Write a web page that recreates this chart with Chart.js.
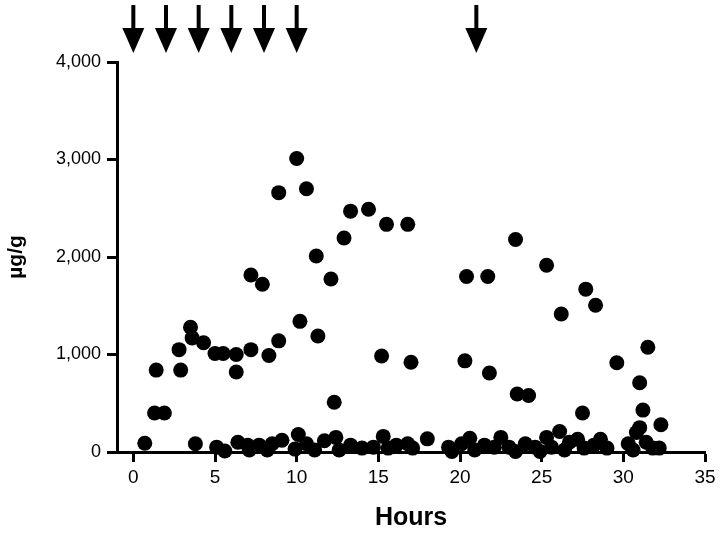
<!DOCTYPE html>
<html>
<head>
<meta charset="utf-8">
<script src="https://cdn.jsdelivr.net/npm/chart.js@4/dist/chart.umd.min.js"></script>
<style>
html,body{margin:0;padding:0;background:#fff;}
canvas{display:block;}
</style>
</head>
<body>
<canvas id="c" width="720" height="533"></canvas>
<script>
// Data
const hours = [
  0.7, 1.3, 1.9, 1.4, 2.8, 2.9, 3.5, 3.6, 4.3, 5.0, 5.5, 6.3, 6.3, 7.2, 8.3, 8.9,
  10.2, 11.3, 12.3, 15.2, 17.0, 10.0, 8.9, 10.6, 13.3, 14.4, 15.5, 16.8, 12.9, 11.2,
  12.1, 7.2, 7.9, 23.4, 20.4, 21.7, 25.3, 26.2, 27.7, 28.3, 29.6, 31.5, 31.0, 27.5,
  31.2, 32.3, 31.0, 30.8, 20.3, 21.8, 23.5, 24.2, 18.0,
  3.8, 5.1, 5.6, 6.4, 7.0, 7.1, 7.7, 8.2, 8.5, 9.1, 9.9, 10.1, 10.6, 11.1, 11.7,
  12.4, 12.6, 13.3, 14.0, 14.7, 15.3, 15.6, 16.1, 16.8, 17.1, 19.3, 19.5, 20.1,
  20.6, 20.9, 21.5, 22.1, 22.5, 23.0, 23.4, 24.0, 24.6, 24.9, 25.3, 25.6, 26.1,
  26.4, 26.7, 27.2, 27.6, 28.2, 28.6, 29.0, 30.3, 30.6, 31.4, 31.8, 32.2
];
const ugPerG = [
  90, 400, 400, 840, 1050, 840, 1280, 1170, 1120, 1010, 1010, 1000, 820, 1050, 990, 1140,
  1340, 1190, 510, 985, 920, 3010, 2660, 2700, 2470, 2490, 2335, 2335, 2195, 2010,
  1775, 1815, 1720, 2180, 1800, 1800, 1915, 1415, 1670, 1505, 915, 1075, 710, 400,
  430, 280, 250, 200, 935, 810, 595, 580, 135,
  85, 50, 10, 100, 70, 20, 70, 20, 85, 120, 30, 180, 85, 20, 115,
  150, 20, 70, 40, 50, 160, 40, 70, 85, 40, 50, 5, 85,
  140, 20, 70, 50, 150, 50, 5, 85, 50, 5, 150, 50, 210,
  20, 100, 130, 40, 70, 130, 40, 85, 20, 100, 40, 40
];
const arrowHours = [0, 2, 4, 6, 8, 10, 21];
const xTicks = [0, 5, 10, 15, 20, 25, 30, 35];
const yTicks = [0, 1000, 2000, 3000, 4000];

const points = hours.map((h, i) => ({x: h, y: ugPerG[i]}));

const FONT = '"Liberation Sans", Arial, sans-serif';

const arrowPlugin = {
  id: 'arrows',
  afterDraw(chart) {
    const ctx = chart.ctx;
    const xs = chart.scales.x;
    ctx.save();
    ctx.fillStyle = '#000';
    arrowHours.forEach(h => {
      const px = xs.getPixelForValue(h);
      ctx.fillRect(px - 2, 5, 4, 26);
      ctx.beginPath();
      ctx.moveTo(px - 11, 28);
      ctx.lineTo(px + 11, 28);
      ctx.lineTo(px, 53);
      ctx.closePath();
      ctx.fill();
    });
    ctx.restore();
  }
};

new Chart(document.getElementById('c'), {
  type: 'scatter',
  data: {
    datasets: [{
      data: points,
      backgroundColor: '#000',
      borderColor: '#000',
      pointRadius: 7.5,
      pointHoverRadius: 7.5,
      borderWidth: 0,
      clip: false
    }]
  },
  options: {
    responsive: false,
    animation: false,
    events: [],
    layout: {padding: {top: 62, right: 15, left: 0, bottom: 0}},
    plugins: {legend: {display: false}, tooltip: {enabled: false}},
    scales: {
      x: {
        type: 'linear',
        min: -1, max: 35,
        afterBuildTicks(s) { s.ticks = xTicks.map(v => ({value: v})); },
        afterFit(s) { s.height = 81; },
        grid: {display: true, drawOnChartArea: false, drawTicks: true, tickLength: 10, tickWidth: 3, tickColor: '#000', color: '#000'},
        border: {display: true, color: '#000', width: 3},
        ticks: {color: '#000', padding: 4, font: {family: FONT, size: 19}, maxRotation: 0},
        title: {display: true, text: 'Hours', color: '#000', font: {family: FONT, size: 25, weight: 'bold'}, padding: {top: 0, bottom: 0}}
      },
      y: {
        type: 'linear',
        min: 0, max: 4000,
        afterBuildTicks(s) { s.ticks = yTicks.map(v => ({value: v})); },
        afterFit(s) { s.width = 117; },
        grid: {display: true, drawOnChartArea: false, drawTicks: true, tickLength: 10, tickWidth: 3, tickColor: '#000', color: '#000'},
        border: {display: true, color: '#000', width: 3},
        ticks: {color: '#000', padding: 6, font: {family: FONT, size: 18}},
        title: {display: true, text: 'µg/g', color: '#000', font: {family: FONT, size: 21, weight: 'bold'}, padding: {top: 4, bottom: 0}}
      }
    }
  },
  plugins: [arrowPlugin]
});
</script>
</body>
</html>
